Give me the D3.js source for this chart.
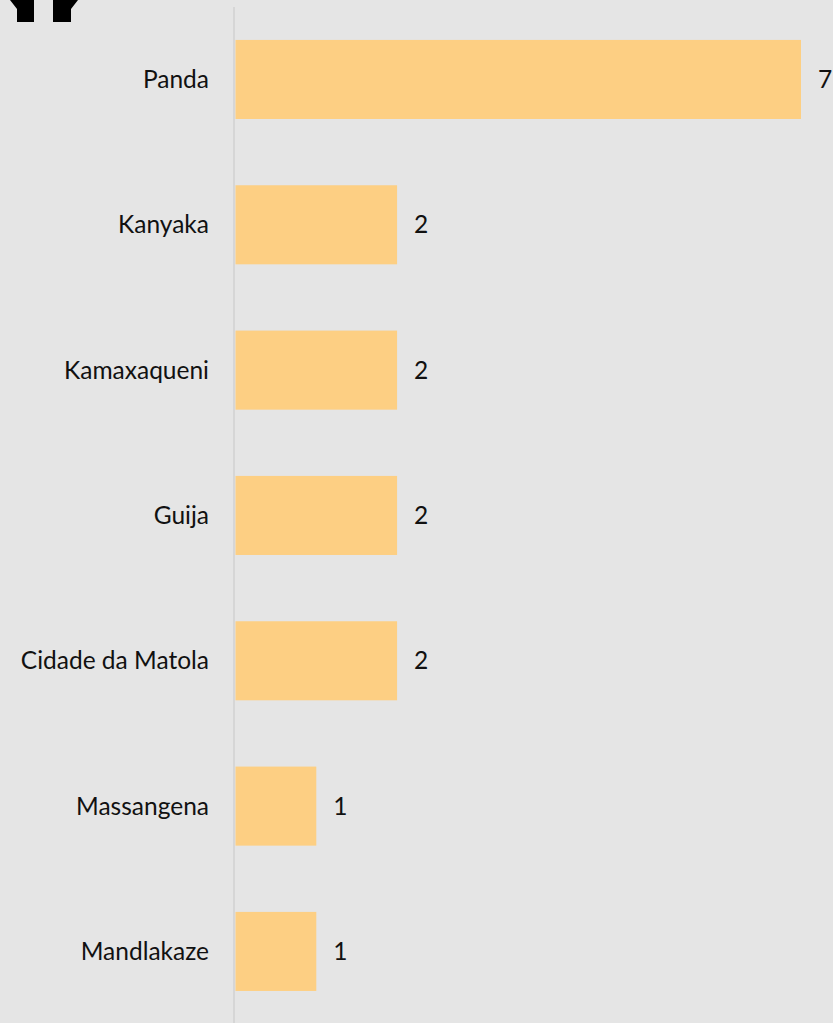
<!DOCTYPE html>
<html><head><meta charset="utf-8">
<script src="https://cdn.jsdelivr.net/npm/d3@7"></script>
<style>html,body{margin:0;padding:0;background:#e5e5e5;overflow:hidden}</style>
</head><body>
<script>
const categories = ["Panda","Kanyaka","Kamaxaqueni","Guija","Cidade da Matola","Massangena","Mandlakaze"];
const values = [7,2,2,2,2,1,1];

const W = 833, H = 1023;
const svg = d3.select("body").append("svg").attr("width", W).attr("height", H);
svg.append("rect").attr("width", W).attr("height", H).attr("fill", "#e5e5e5");

// cropped decoration at top-left
svg.append("path").attr("d","M10,0 L34,0 L34,22 L17,22 L17,9 Z").attr("fill","#000");
svg.append("path").attr("d","M53,0 L78,0 L71,9 L71,22 L53,22 Z").attr("fill","#000");

const x = d3.scaleLinear().domain([0,7]).range([235.5, 801]);
const y = d3.scaleBand().domain(categories).range([6.8, 1024.1]).paddingInner(0.456).paddingOuter(0.228);

svg.append("line").attr("x1",234).attr("x2",234).attr("y1",7).attr("y2",H).attr("stroke","#d6d6d6").attr("stroke-width",2);

svg.selectAll("rect.bar").data(values).enter().append("rect").attr("class","bar")
  .attr("x", x(0)).attr("y",(d,i)=>y(categories[i])).attr("width",d=>x(d)-x(0)).attr("height",y.bandwidth())
  .attr("fill","#fdcf83");

const font = "Lato, sans-serif";
svg.selectAll("text.cat").data(categories).enter().append("text").attr("class","cat")
  .attr("x",209).attr("y",d=>y(d)+y.bandwidth()/2).attr("dy","0.35em").attr("text-anchor","end")
  .attr("font-family",font).attr("font-size",24.5).attr("fill","#111").text(d=>d);

svg.selectAll("text.val").data(values).enter().append("text").attr("class","val")
  .attr("x",d=>x(d)+17).attr("y",(d,i)=>y(categories[i])+y.bandwidth()/2).attr("dy","0.35em")
  .attr("font-family",font).attr("font-size",24.5).attr("fill","#111").text(d=>d);
</script>
</body></html>
